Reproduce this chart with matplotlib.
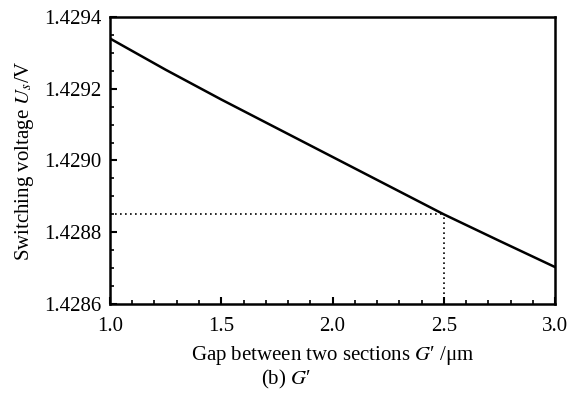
import numpy as np
import matplotlib.pyplot as plt
from matplotlib.ticker import MultipleLocator, FormatStrFormatter

plt.rcParams["font.family"] = "Liberation Serif"
plt.rcParams["mathtext.fontset"] = "stix"

# Switching voltage vs. gap between two sections
gap = [1.0, 1.25, 1.5, 1.75, 2.0, 2.25, 2.5, 2.75, 3.0]
voltage = [1.42934, 1.429253, 1.42917, 1.42909, 1.42901, 1.42893, 1.42885, 1.428776, 1.428703]
mark_x = 2.5
mark_y = 1.42885

fig = plt.figure(figsize=(5.72, 3.94), dpi=100)
ax = fig.add_axes([0.1923, 0.2284, 0.778, 0.7285])

ax.plot(gap, voltage, color="black", lw=1.8)
ax.plot([1.0, mark_x], [mark_y, mark_y], color="black", lw=1.2, ls=(0, (1, 2)))
ax.plot([mark_x, mark_x], [1.4286, mark_y], color="black", lw=1.2, ls=(0, (1, 2)))

ax.set_xlim(1.0, 3.0)
ax.set_ylim(1.4286, 1.4294)
ax.xaxis.set_major_locator(MultipleLocator(0.5))
ax.xaxis.set_minor_locator(MultipleLocator(0.1))
ax.yaxis.set_major_locator(MultipleLocator(0.0002))
ax.yaxis.set_minor_locator(MultipleLocator(0.00005))
ax.xaxis.set_major_formatter(FormatStrFormatter("%.1f"))
ax.yaxis.set_major_formatter(FormatStrFormatter("%.4f"))
ax.tick_params(which="both", direction="in", labelsize=15, color="black")
ax.tick_params(which="major", length=5, width=1.5, pad=6)
ax.tick_params(axis="x", which="major", pad=9)
ax.tick_params(which="minor", length=3, width=1.2)
for s in ax.spines.values():
    s.set_linewidth(1.8)

ax.set_ylabel("Switching voltage $U_s$/V", fontsize=15, labelpad=6)
ax.set_xlabel("Gap between two sections $G$\u2032 /\u03bcm", fontsize=15, labelpad=6)
fig.text(0.5, 0.025, "(b) $G$\u2032", fontsize=15, ha="center")

fig.savefig("out.png", dpi=100)
